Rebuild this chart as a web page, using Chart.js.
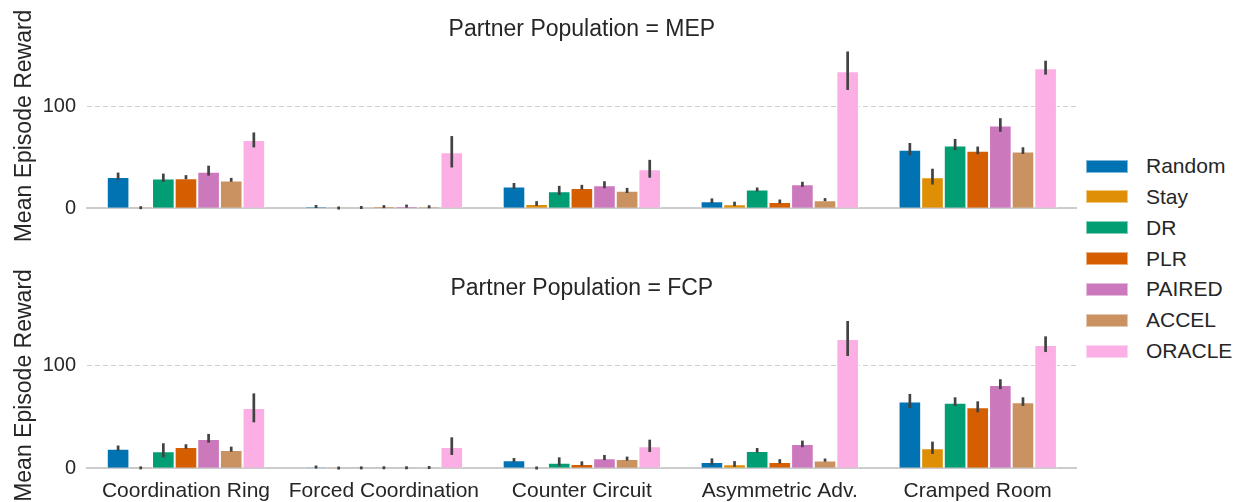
<!DOCTYPE html>
<html>
<head>
<meta charset="utf-8">
<script src="https://cdn.jsdelivr.net/npm/chart.js@4.4.0/dist/chart.umd.min.js"></script>
<style>
  body { margin: 0; background: #fff; width: 1236px; height: 502px; overflow: hidden; position: relative;
         font-family: "Liberation Sans", Arial, sans-serif; color: #262626; }
  canvas { position: absolute; left: 0; }
  #mepChart { top: 0; }
  #fcpChart { top: 250px; }
  #legend { position: absolute; left: 1086px; top: 150.6px; }
  .item { display: flex; align-items: center; height: 30.85px; font-size: 21px; }
  .sw { width: 42px; height: 13px; margin-right: 18px; box-sizing: border-box; border: 1px solid rgba(255,255,255,0.5); }
</style>
</head>
<body>
<canvas id="mepChart" width="1080" height="250"></canvas>
<canvas id="fcpChart" width="1080" height="252"></canvas>
<div id="legend"></div>
<script>
// Layouts and methods
const categories = ['Coordination Ring', 'Forced Coordination', 'Counter Circuit', 'Asymmetric Adv.', 'Cramped Room'];
const methods = ['Random', 'Stay', 'DR', 'PLR', 'PAIRED', 'ACCEL', 'ORACLE'];
const colors = ['#0173b2', '#de8f05', '#029e73', '#d55e00', '#cc78bc', '#ca9161', '#fbafe4'];
const yTicks = [0, 100];

// Partner population = MEP (mean, then [low, high] of the error bar)
const mepRandom = [30.7, 1.6, 21.3, 6.8, 57.3];
const mepRandomErr = [[28, 35], [0.5, 3], [19, 24.8], [5, 9.7], [52, 64]];
const mepStay = [0.3, 0.2, 4.2, 3.9, 30.4];
const mepStayErr = [[0, 1.2], [0, 0.6], [2.3, 7], [2.3, 6.5], [23.3, 38.8]];
const mepDR = [29.1, 0.6, 16.8, 18.4, 61.5];
const mepDRErr = [[26, 34], [0, 1.5], [13, 22], [16.5, 20.4], [57, 68]];
const mepPLR = [29.4, 1.5, 20, 6.1, 56.3];
const mepPLRErr = [[28.5, 32.5], [0.5, 2.8], [18.5, 23], [4.8, 8.6], [53, 60.5]];
const mepPAIRED = [35.9, 2.2, 22.6, 23.6, 81.2];
const mepPAIREDErr = [[32, 41.8], [0.8, 3.5], [19.7, 26.5], [21, 26], [75, 88.3]];
const mepACCEL = [27.2, 1.5, 17.1, 8, 55.6];
const mepACCELErr = [[26, 29.8], [0.5, 2.5], [15, 20], [7, 10], [53.2, 59.8]];
const mepORACLE = [67, 55, 38.2, 134.3, 137.2];
const mepORACLEErr = [[59.7, 74.3], [40, 70.8], [30, 47.5], [116, 153.7], [131, 144.6]];

// Partner population = FCP
const fcpRandom = [19.1, 1.3, 7.8, 6.2, 65];
const fcpRandomErr = [[17, 22.2], [0.5, 2], [6.2, 10], [3.2, 9.7], [58.8, 72.5]];
const fcpStay = [0.2, 0.1, 0.2, 3.9, 19.5];
const fcpStayErr = [[0, 0.8], [0, 0.5], [0, 0.6], [1.5, 7], [14, 26]];
const fcpDR = [16.6, 0.2, 5.5, 16.9, 64];
const fcpDRErr = [[10.7, 24.4], [0, 0.8], [2.3, 10.7], [15.3, 19.8], [60.8, 69.2]];
const fcpPLR = [20.8, 0.3, 4.2, 6.2, 59.5];
const fcpPLRErr = [[19, 23.4], [0, 1], [2.6, 6.8], [4.8, 8.9], [54.6, 65.3]];
const fcpPAIRED = [28.6, 0.3, 9.7, 23.7, 81.2];
const fcpPAIREDErr = [[25, 33.5], [0, 1], [8, 13], [20.5, 27], [77.1, 86.8]];
const fcpACCEL = [17.9, 0.5, 9.1, 7.5, 64.3];
const fcpACCELErr = [[16.2, 21.1], [0, 1.5], [7.5, 11.4], [6.4, 9.5], [60.8, 69.2]];
const fcpORACLE = [58.8, 20.8, 21.4, 126, 120.2];
const fcpORACLEErr = [[44.8, 73], [13, 30.2], [15.9, 27.9], [109.5, 143.6], [113.3, 128.6]];

const mepSeries = [mepRandom, mepStay, mepDR, mepPLR, mepPAIRED, mepACCEL, mepORACLE];
const mepErrors = [mepRandomErr, mepStayErr, mepDRErr, mepPLRErr, mepPAIREDErr, mepACCELErr, mepORACLEErr];
const fcpSeries = [fcpRandom, fcpStay, fcpDR, fcpPLR, fcpPAIRED, fcpACCEL, fcpORACLE];
const fcpErrors = [fcpRandomErr, fcpStayErr, fcpDRErr, fcpPLRErr, fcpPAIREDErr, fcpACCELErr, fcpORACLEErr];

const textColor = '#262626';
const fontFamily = '"Liberation Sans", Arial, sans-serif';

// Draw the vertical confidence interval lines over each bar
const errorBars = {
    id: 'errorBars',
    afterDatasetsDraw(chart) {
        const ctx = chart.ctx;
        const y = chart.scales.y;
        ctx.save();
        ctx.strokeStyle = '#424242';
        ctx.lineWidth = 2.7;
        ctx.lineCap = 'butt';
        chart.data.datasets.forEach((ds, i) => {
            chart.getDatasetMeta(i).data.forEach((bar, j) => {
                const lo = ds.errors[j][0];
                const hi = ds.errors[j][1];
                let y0 = y.getPixelForValue(lo);
                let y1 = y.getPixelForValue(hi);
                if (y0 - y1 < 3) { const m = (y0 + y1) / 2; y0 = m + 1.5; y1 = m - 1.5; }
                ctx.beginPath();
                ctx.moveTo(bar.x, y0);
                ctx.lineTo(bar.x, y1);
                ctx.stroke();
            });
        });
        ctx.restore();
    }
};

function makeChart(id, series, errors, title, showLabels, titlePad, bottomPad, xHeight) {
    const ctx = document.getElementById(id).getContext('2d');
    return new Chart(ctx, {
        type: 'bar',
        data: {
            labels: categories,
            datasets: methods.map((m, i) => ({
                label: m,
                data: series[i],
                errors: errors[i],
                backgroundColor: colors[i],
                borderColor: 'rgba(255,255,255,0.85)',
                borderWidth: 1,
                categoryPercentage: 0.8,
                barPercentage: 1
            }))
        },
        options: {
            responsive: false,
            devicePixelRatio: 1,
            animation: false,
            layout: { padding: { left: 0, right: 3.3, top: 0, bottom: bottomPad } },
            scales: {
                x: {
                    afterFit: s => { s.height = xHeight; },
                    grid: { display: false, drawTicks: false },
                    border: { display: true, color: '#cccccc', width: 2 },
                    ticks: { display: showLabels, color: textColor, font: { family: fontFamily, size: 21 }, padding: 10.7, maxRotation: 0 }
                },
                y: {
                    min: 0,
                    max: 161.4,
                    afterBuildTicks: s => { s.ticks = yTicks.map(v => ({ value: v })); },
                    afterFit: s => { s.width = 87; },
                    ticks: { color: textColor, font: { family: fontFamily, size: 20 }, padding: 11 },
                    grid: {
                        drawTicks: false,
                        lineWidth: 1,
                        color: c => (c.tick && c.tick.value === 100) ? '#d0d0d0' : 'rgba(0,0,0,0)'
                    },
                    border: { display: false, dash: [5, 3] },
                    title: {
                        display: true,
                        text: 'Mean Episode Reward',
                        color: textColor,
                        font: { family: fontFamily, size: 23 },
                        padding: { top: 11, bottom: 0 }
                    }
                }
            },
            plugins: {
                legend: { display: false },
                tooltip: { enabled: false },
                title: {
                    display: true,
                    fullSize: false,
                    text: title,
                    color: textColor,
                    font: { family: fontFamily, size: 23, weight: 'normal', lineHeight: 1.2 },
                    padding: titlePad
                }
            }
        },
        plugins: [errorBars]
    });
}

makeChart('mepChart', mepSeries, mepErrors, 'Partner Population = MEP', false, { top: 16, bottom: 0 }, 41.7, 0);
makeChart('fcpChart', fcpSeries, fcpErrors, 'Partner Population = FCP', true, { top: 24.5, bottom: 0.6 }, 0, 33.7);

// Legend on the right
const legend = document.getElementById('legend');
methods.forEach((m, i) => {
    const item = document.createElement('div');
    item.className = 'item';
    item.innerHTML = '<span class="sw" style="background:' + colors[i] + '"></span><span>' + m + '</span>';
    legend.appendChild(item);
});
</script>
</body>
</html>
